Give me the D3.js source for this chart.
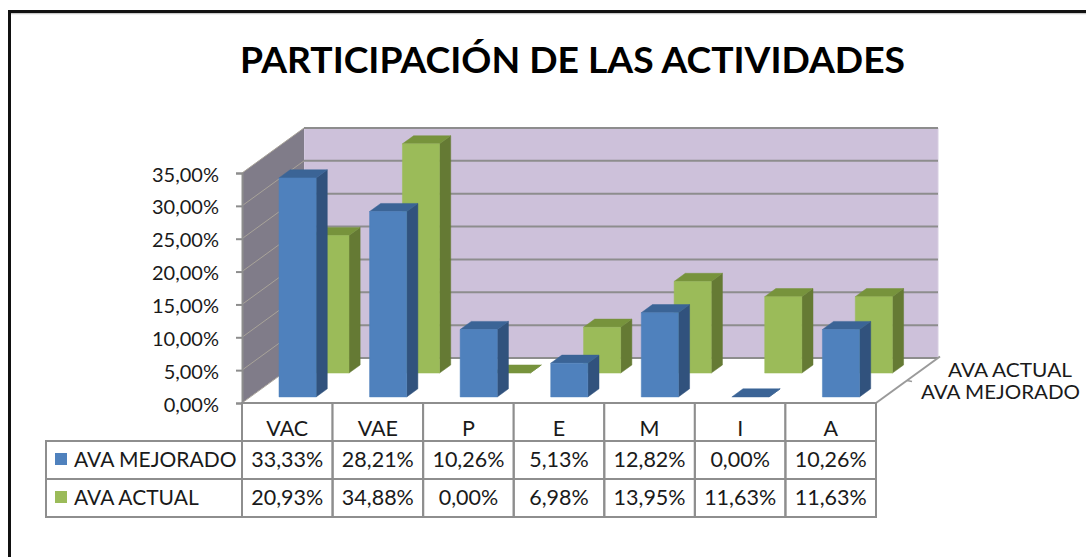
<!DOCTYPE html>
<html><head><meta charset="utf-8">
<script src="https://cdn.jsdelivr.net/npm/d3@7"></script>
<style>
html,body{margin:0;padding:0;background:#fff;}
svg{display:block;}
text{font-family:Lato,"Liberation Sans",sans-serif;fill:#1a1a1a;}
</style></head>
<body>
<svg id="c" width="1086" height="557"></svg>
<script>
const title = "PARTICIPACIÓN DE LAS ACTIVIDADES";
const categories = ["VAC","VAE","P","E","M","I","A"];
const seriesNames = ["AVA MEJORADO","AVA ACTUAL"];
const mejorado = [33.33, 28.21, 10.26, 5.13, 12.82, 0.00, 10.26];
const actual   = [20.93, 34.88, 0.00, 6.98, 13.95, 11.63, 11.63];
const yTicks = [0,5,10,15,20,25,30,35];

const svg = d3.select("#c");
const fmt = v => d3.format(".2f")(v).replace(".", ",") + "%";

// frame
svg.append("line").attr("x1",9).attr("x2",1086).attr("y1",13.5).attr("y2",13.5).attr("stroke","#c8c8c8").attr("stroke-width",1.5);
svg.append("line").attr("x1",9).attr("x2",1086).attr("y1",11.5).attr("y2",11.5).attr("stroke","#111").attr("stroke-width",3);
svg.append("line").attr("x1",9.5).attr("x2",9.5).attr("y1",10).attr("y2",557).attr("stroke","#111").attr("stroke-width",3);

// title
svg.append("text").attr("x",240).attr("y",73).attr("font-size",36).attr("font-weight","bold")
  .attr("textLength",665).attr("lengthAdjust","spacingAndGlyphs").style("fill","#000").text(title);

// scales
const x = d3.scaleBand().domain(categories).range([242,876]).padding(0);
const y = d3.scaleLinear().domain([0,35]).range([403,173]);
const DX = 62, DY = 45;
const P = (px, v, d) => [px + DX*d, y(v) - DY*d];
const poly = pts => pts.map(p => p.join(",")).join(" ");
const X0 = x.range()[0], X1 = x.range()[1];

// back wall
svg.append("polygon").attr("points", poly([P(X0,0,1),P(X1,0,1),P(X1,35,1),P(X0,35,1)]))
  .attr("fill","#cdc1da").attr("stroke","#d8cfe3").attr("stroke-width",1);
// side wall
svg.append("polygon").attr("points", poly([P(X0,0,0),P(X0,0,1),P(X0,35,1),P(X0,35,0)]))
  .attr("fill","#807c89");
// floor
svg.append("polygon").attr("points", poly([P(X0,0,0),P(X1,0,0),P(X1,0,1),P(X0,0,1)]))
  .attr("fill","#ffffff");

// gridlines
yTicks.forEach(t => {
  const a = P(X0,t,0), b = P(X0,t,1), c = P(X1,t,1);
  svg.append("line").attr("x1",a[0]).attr("y1",a[1]).attr("x2",b[0]).attr("y2",b[1])
    .attr("stroke","#a8a399").attr("stroke-width",1);
  svg.append("line").attr("x1",b[0]).attr("y1",b[1]).attr("x2",c[0]).attr("y2",c[1])
    .attr("stroke","#8d8d8d").attr("stroke-width",2);
});

// floor right edge + depth tick
{
  const a = P(X1,0,0), b = P(X1,0,1), m = P(X1,0,0.5);
  svg.append("line").attr("x1",a[0]).attr("y1",a[1]).attr("x2",b[0]+2).attr("y2",b[1]-1.5)
    .attr("stroke","#9a9a9a").attr("stroke-width",2);
  svg.append("line").attr("x1",m[0]).attr("y1",m[1]).attr("x2",m[0]+5).attr("y2",m[1]+1)
    .attr("stroke","#9a9a9a").attr("stroke-width",1.5);
}

// y axis
const yAxis = d3.axisLeft(y).tickValues(yTicks).tickSize(6).tickPadding(17).tickFormat(v => fmt(v));
const gy = svg.append("g").attr("transform","translate(242,0)").call(yAxis);
gy.select(".domain").attr("stroke","#8d8d8d").attr("stroke-width",2);
gy.selectAll(".tick line").attr("stroke","#8d8d8d").attr("stroke-width",2);
gy.selectAll(".tick text").attr("font-size",20).attr("font-family","Lato,'Liberation Sans',sans-serif").style("fill","#1a1a1a").attr("dy","0.4em");

// bars
const series = [
  {name:seriesNames[1], vals:actual, d0:0.665, front:"#9bbb59", side:"#657a34", top:"#77933c"},
  {name:seriesNames[0], vals:mejorado, d0:0.135, front:"#4f81bd", side:"#31527d", top:"#3b6496"}
];
const BD = 0.18;
series.forEach(s => {
  const g = svg.append("g");
  categories.forEach((c,i) => {
    const v = s.vals[i];
    const bw = x.bandwidth();
    const x0 = x(c) + bw*0.316, x1 = x0 + bw*0.41;
    const d0 = s.d0, d1 = s.d0 + BD;
    g.append("polygon").attr("points", poly([P(x1,0,d0),P(x1,0,d1),P(x1,v,d1),P(x1,v,d0)]))
      .attr("fill",s.side).attr("stroke",s.side).attr("stroke-width",0.5);
    g.append("polygon").attr("points", poly([P(x0,v,d0),P(x1,v,d0),P(x1,v,d1),P(x0,v,d1)]))
      .attr("fill",s.top).attr("stroke",s.top).attr("stroke-width",0.5);
    if (v > 0) g.append("polygon").attr("points", poly([P(x0,0,d0),P(x1,0,d0),P(x1,v,d0),P(x0,v,d0)]))
      .attr("fill",s.front).attr("stroke",s.front).attr("stroke-width",0.5);
  });
});

// depth axis labels
svg.append("text").attr("x",948).attr("y",377).attr("font-size",20).attr("textLength",124).attr("lengthAdjust","spacingAndGlyphs").text(seriesNames[1]);
svg.append("text").attr("x",921).attr("y",399).attr("font-size",20).attr("textLength",159).attr("lengthAdjust","spacingAndGlyphs").text(seriesNames[0]);

// data table
const rowY = [403, 441, 479, 517];
const tb = svg.append("g");
const gridC = "#8e8e8e";
const FS = 21.5;
// header cells
categories.forEach(c => {
  tb.append("rect").attr("x",x(c)).attr("y",rowY[0]).attr("width",x.bandwidth()).attr("height",rowY[1]-rowY[0])
    .attr("fill","#fff").attr("stroke",gridC).attr("stroke-width",2);
  tb.append("text").attr("x",x(c)+x.bandwidth()/2).attr("y",436).attr("text-anchor","middle").attr("font-size",FS).text(c);
});
const rows = [{name:seriesNames[0], vals:mejorado, col:"#4f81bd"},{name:seriesNames[1], vals:actual, col:"#9bbb59"}];
rows.forEach((r,ri) => {
  const yt = rowY[ri+1], yb = rowY[ri+2];
  tb.append("rect").attr("x",46).attr("y",yt).attr("width",242-46).attr("height",yb-yt)
    .attr("fill","#fff").attr("stroke",gridC).attr("stroke-width",2);
  tb.append("rect").attr("x",55).attr("y",yt+12).attr("width",12).attr("height",12).attr("fill",r.col);
  tb.append("text").attr("x",74).attr("y",yt+26).attr("font-size",21).text(r.name);
  categories.forEach((c,i) => {
    tb.append("rect").attr("x",x(c)).attr("y",yt).attr("width",x.bandwidth()).attr("height",yb-yt)
      .attr("fill","none").attr("stroke",gridC).attr("stroke-width",2);
    tb.append("text").attr("x",x(c)+x.bandwidth()/2).attr("y",yt+26).attr("text-anchor","middle")
      .attr("font-size",FS).text(fmt(r.vals[i]));
  });
});
</script>
</body></html>
